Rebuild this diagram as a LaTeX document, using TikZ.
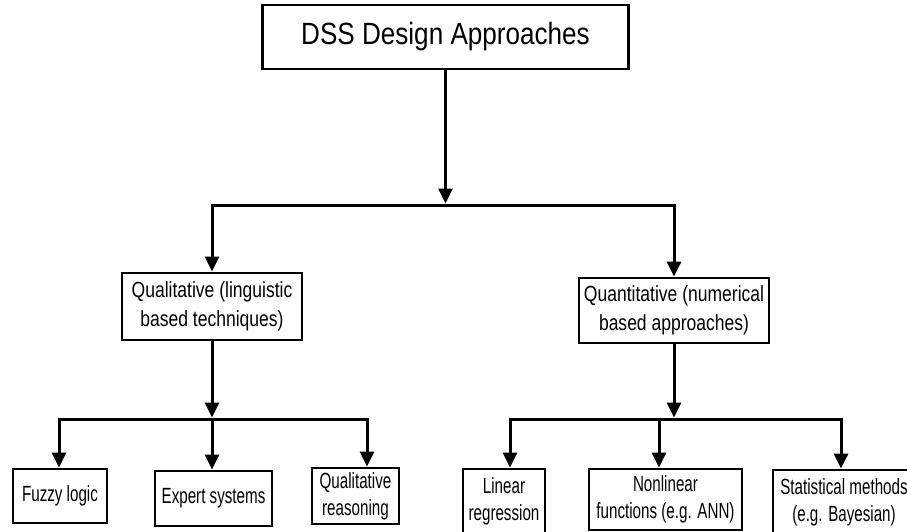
\documentclass[tikz,border=0pt]{standalone}
\usepackage{fontspec}
\setmainfont{Liberation Sans}
\newfontfamily\titlefamily[FakeStretch=0.85]{Liberation Sans}
\newfontfamily\midfamily[FakeStretch=0.80]{Liberation Sans}
\newfontfamily\leaffamily[FakeStretch=0.69]{Liberation Sans}
\usetikzlibrary{arrows.meta}

\tikzset{
  box/.style={draw, line width=2.8pt, inner sep=0pt, align=center, fill=white},
  link/.style={line width=3pt},
  arr/.style={link, -{Triangle[length=15pt,width=14pt]}},
  titlefont/.style={font=\titlefamily\fontsize{30.7}{36}\selectfont},
  midfont/.style={font=\midfamily\fontsize{21.9}{28.5}\selectfont},
  leaffont/.style={font=\leaffamily\fontsize{22}{27}\selectfont}
}

\begin{document}
\begin{tikzpicture}[x=1pt,y=-1pt]
  \useasboundingbox (0,0) rectangle (907,531);
  \fill[white] (0,0) rectangle (907,531);
  \clip (0,0) rectangle (907,531);

  % root
  \node[box, titlefont, minimum width=366pt, minimum height=64pt] (top) at (445.5,37) {DSS Design Approaches};

  % second level
  \node[box, midfont, minimum width=180pt, minimum height=67pt] (qual) at (212,306.5)
    {Qualitative (linguistic\\based techniques)};
  \node[box, midfont, minimum width=190pt, minimum height=65pt] (quant) at (674,310.5)
    {Quantitative (numerical\\based approaches)};

  % leaves under the qualitative branch
  \node[box, leaffont, minimum width=94pt, minimum height=54pt] (fuzzy) at (60,496) {Fuzzy logic};
  \node[box, leaffont, minimum width=117pt, minimum height=55pt] (expert) at (213.5,498.5) {Expert systems};
  \node[box, leaffont, minimum width=87pt, minimum height=56pt] (qreason) at (355.5,496) {Qualitative\\reasoning};

  % leaves under the quantitative branch
  \node[box, leaffont, minimum width=82pt, minimum height=64pt] (linear) at (504,501) {Linear\\regression};
  \node[box, leaffont, minimum width=153pt, minimum height=61pt] (nonlin) at (665.5,499.5) {Nonlinear\\functions (e.g. ANN)};
  \node[box, leaffont, minimum width=142pt, minimum height=64pt] (stat) at (844,502) {Statistical methods\\(e.g. Bayesian)};

  % junction points on the buses
  \coordinate (b0) at (445.5,203.5);
  \coordinate (bm) at (445.5,205);
  \coordinate (l0) at (212,417.5);
  \coordinate (lm) at (212,419);
  \coordinate (l1) at (59,419);
  \coordinate (l3) at (367,419);
  \coordinate (r0) at (674,417.5);
  \coordinate (rm) at (674,419);
  \coordinate (r1) at (510,419);
  \coordinate (r2) at (659,419);
  \coordinate (r3) at (841,419);

  % root to second level
  \draw[arr] (top.south) -- (b0);
  \draw[arr] (bm) -| (qual.north);
  \draw[arr] (bm) -| (quant.north);

  % qualitative branch
  \draw[arr] (qual.south) -- (l0);
  \draw[arr] (lm) -| (l1 |- fuzzy.north);
  \draw[arr] (lm) -- (lm |- expert.north);
  \draw[arr] (lm) -| (l3 |- qreason.north);

  % quantitative branch
  \draw[arr] (quant.south) -- (r0);
  \draw[arr] (rm) -| (r1 |- linear.north);
  \draw[link] (rm) -- (r2);
  \draw[arr] (r2) -- (r2 |- nonlin.north);
  \draw[arr] (rm) -| (r3 |- stat.north);
\end{tikzpicture}
\end{document}
